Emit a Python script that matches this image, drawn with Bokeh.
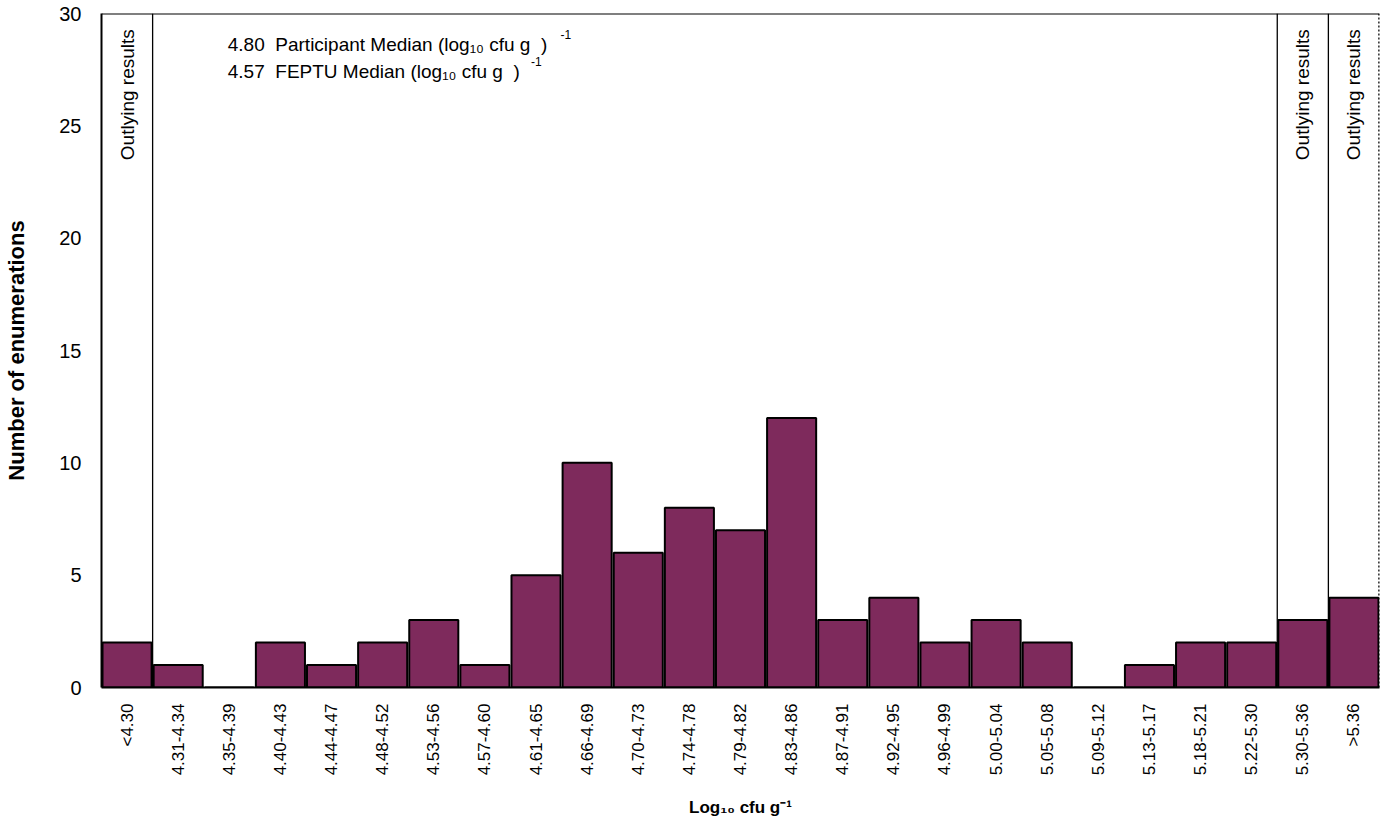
import math
from bokeh.plotting import figure
from bokeh.models import Span, Label, FactorRange, FixedTicker
from bokeh.embed import file_html
from bokeh.resources import INLINE

categories = ["<4.30", "4.31-4.34", "4.35-4.39", "4.40-4.43", "4.44-4.47", "4.48-4.52",
              "4.53-4.56", "4.57-4.60", "4.61-4.65", "4.66-4.69", "4.70-4.73", "4.74-4.78",
              "4.79-4.82", "4.83-4.86", "4.87-4.91", "4.92-4.95", "4.96-4.99", "5.00-5.04",
              "5.05-5.08", "5.09-5.12", "5.13-5.17", "5.18-5.21", "5.22-5.30", "5.30-5.36", ">5.36"]
counts = [2, 1, 0, 2, 1, 2, 3, 1, 5, 10, 6, 8, 7, 12, 3, 4, 2, 3, 2, 0, 1, 2, 2, 3, 4]
outlying_categories = ["<4.30", "5.30-5.36", ">5.36"]
outlying_boundaries = [1, 23, 24]
y_ticks = [0, 5, 10, 15, 20, 25, 30]
participant_median = "4.80"
feptu_median = "4.57"

FONT = "Liberation Sans"
BAR = "#7E2A5C"
SP = "\u00a0"

p = figure(width=1389, height=820, x_range=FactorRange(factors=categories, range_padding=0),
           y_range=(0, 30), output_backend="svg", toolbar_location=None,
           min_border_left=101, min_border_right=10, min_border_top=13, min_border_bottom=132)
p.outline_line_color = None
p.grid.grid_line_color = None
p.background_fill_color = "white"
p.border_fill_color = "white"

p.vbar(x=categories, top=counts, width=0.96, fill_color=BAR, line_color="black", line_width=2)

# outlying result boundaries
for b in outlying_boundaries:
    p.add_layout(Span(location=b, dimension="height", line_color="black", line_width=1.3))
# top border and dotted right border
p.add_layout(Span(location=30, dimension="width", line_color="black", line_width=2))
p.add_layout(Span(location=len(categories), dimension="height", line_color="black",
                  line_width=2.5, line_dash="2 2"))

p.text(x=outlying_categories, y=[29.3] * 3, text=["Outlying results"] * 3, angle=math.pi / 2,
       text_align="right", text_baseline="middle", text_font_size="19px",
       text_font={"value": FONT}, text_color="black")

p.add_layout(Label(x=2.47, y=28.6,
                   text=participant_median + SP * 2 + "Participant Median (log\u2081\u2080 cfu g" + SP * 2 + ")",
                   text_font=FONT, text_font_size="19px", text_baseline="middle", text_color="black"))
p.add_layout(Label(x=8.98, y=29.05, text="-1", text_font=FONT, text_font_size="12px",
                   text_baseline="middle", text_color="black"))
p.add_layout(Label(x=2.47, y=27.4,
                   text=feptu_median + SP * 2 + "FEPTU Median (log\u2081\u2080 cfu g" + SP * 2 + ")",
                   text_font=FONT, text_font_size="19px", text_baseline="middle", text_color="black"))
p.add_layout(Label(x=8.4, y=27.85, text="-1", text_font=FONT, text_font_size="12px",
                   text_baseline="middle", text_color="black"))

p.xaxis.major_label_orientation = math.pi / 2
p.xaxis.major_label_text_font = FONT
p.xaxis.major_label_text_font_size = "17px"
p.xaxis.major_label_text_color = "black"
p.xaxis.major_label_standoff = 10
p.xaxis.major_tick_line_color = None
p.xaxis.minor_tick_line_color = None
p.xaxis.axis_line_color = "black"
p.xaxis.axis_line_width = 2
p.xaxis.axis_label = "Log\u2081\u2080 cfu g\u207b\u00b9"
p.xaxis.axis_label_text_font = FONT
p.xaxis.axis_label_text_font_style = "bold"
p.xaxis.axis_label_text_font_size = "17px"
p.xaxis.axis_label_text_color = "black"
p.xaxis.axis_label_standoff = 20

p.yaxis.ticker = FixedTicker(ticks=y_ticks)
p.yaxis.major_label_text_font = FONT
p.yaxis.major_label_text_font_size = "20px"
p.yaxis.major_label_text_color = "black"
p.yaxis.major_label_standoff = 14
p.yaxis.major_tick_line_color = None
p.yaxis.minor_tick_line_color = None
p.yaxis.axis_line_color = "black"
p.yaxis.axis_line_width = 2
p.yaxis.axis_label = "Number of enumerations"
p.yaxis.axis_label_text_font = FONT
p.yaxis.axis_label_text_font_style = "bold"
p.yaxis.axis_label_text_font_size = "22px"
p.yaxis.axis_label_text_color = "black"
p.yaxis.axis_label_standoff = 27

open("out.html", "w").write(file_html(p, INLINE))
